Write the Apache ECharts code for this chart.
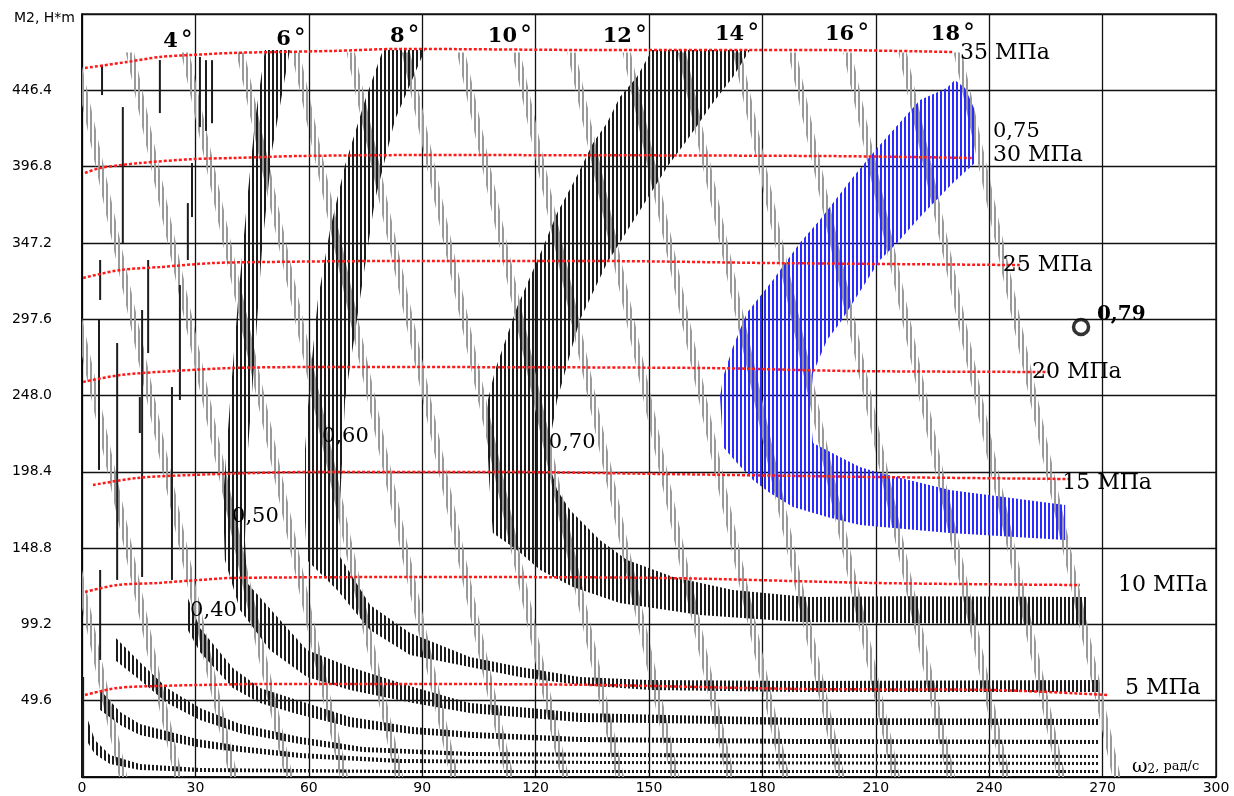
<!DOCTYPE html>
<html><head><meta charset="utf-8">
<script src="https://cdn.jsdelivr.net/npm/echarts@6/dist/echarts.min.js"></script>
<style>html,body{margin:0;padding:0;background:#fff}#c{width:1234px;height:796px}</style>
</head><body><div id="c"></div>
<script>
// ---------- axes ----------
const xMin = 0, xMax = 300, xStep = 30;
const yMin = 0, yMax = 496, yStep = 49.6;

// ---------- pressure lines (ω, M) ----------
const p35 = [[0.8,460.9],[11.9,464.8],[20.6,468.1],[29.4,469.4],[39.9,470.7],[51.6,471.3],[66.4,472.0],[84.1,473.3],[137.0,472.6],[195.2,472.6],[230.2,471.3]];
const p30 = [[0.8,392.6],[4.8,395.9],[15.3,399.1],[29.4,401.7],[39.9,402.4],[57.7,403.7],[89.4,404.3],[195.2,403.7],[235.7,402.4]];
const p25 = [[0.3,324.4],[10.1,329.6],[20.6,331.5],[34.7,334.1],[48.9,334.8],[78.8,335.4],[137.0,335.4],[182.8,334.1],[248.1,332.8]];
const p20 = [[0.3,256.8],[10.1,261.3],[24.1,263.9],[39.9,265.9],[61.1,266.5],[163.5,265.9],[204.0,263.9],[256.1,263.3]];
const p15 = [[2.9,189.8],[14.6,194.4],[28.6,196.3],[45.2,197.6],[61.1,198.3],[110.6,198.3],[152.9,197.0],[210.3,195.0],[261.4,193.7]];
const p10 = [[0.8,120.3],[9.3,124.8],[19.8,126.1],[31.2,128.1],[39.9,129.4],[89.4,130.0],[152.9,129.4],[210.3,126.1],[264.0,124.8]];
const p5  = [[0.8,53.3],[9.3,57.9],[20.6,59.2],[31.2,59.8],[48.9,60.5],[89.4,60.5],[137.0,59.8],[190.0,57.2],[240.2,56.6],[271.2,53.3]];

// ---------- swash-angle lines: top ω (at M=grayTopM) and bottom ω (at M=0) ----------
const grayTopM = 471;
const grayTop    = [-32.2,-17.6,-3.0,11.6,26.2,40.8,55.4,70.0,84.6,99.2,113.8,128.4,143.0,157.6,172.2,186.8,201.4,216.0,230.6];
const grayBottom = [9.8,24.4,39.0,53.6,68.2,82.8,97.4,112.0,126.6,141.2,155.8,170.4,185.0,199.6,214.2,228.8,243.4,258.0,272.6];

// ---------- efficiency bands (outline polygons, ω, M) ----------
const eff010 = [[1.1,40.3],[3.4,24.1],[7.4,14.3],[15.3,8.5],[31.2,5.9],[84.1,4.6],[269.3,4.6],[269.3,2.6],[84.1,2.6],[31.2,3.3],[15.3,4.6],[7.4,8.5],[3.4,15.0],[1.1,24.1]];
const eff020 = [[4.8,56.6],[10.1,42.3],[15.3,34.5],[30.4,24.7],[41.8,20.2],[57.7,15.6],[84.1,11.7],[137.0,10.4],[269.3,9.8],[269.3,7.8],[137.0,8.5],[84.1,9.1],[57.7,12.4],[41.8,16.3],[30.4,19.5],[15.3,27.3],[10.1,33.8],[4.8,43.6]];
const eff030 = [[8.7,91.0],[15.3,74.8],[22.5,57.9],[31.2,44.9],[41.8,34.5],[57.7,26.0],[74.3,19.5],[102.6,16.3],[190.0,15.0],[269.3,14.3],[269.3,12.4],[190.0,12.4],[102.6,13.7],[74.3,16.3],[57.7,21.5],[41.8,28.6],[31.2,37.1],[22.5,48.1],[15.3,63.1],[8.7,76.1]];
const eff040 = [[28.0,116.4],[31.2,96.9],[39.9,70.9],[47.1,57.9],[56.9,50.1],[70.9,39.0],[87.6,32.5],[103.4,29.3],[131.7,26.0],[190.0,24.7],[269.3,24.1],[269.3,21.5],[190.0,21.5],[131.7,22.8],[103.4,25.4],[87.6,27.9],[70.9,32.5],[56.9,41.0],[47.1,48.1],[39.9,57.9],[31.2,81.3],[28.0,95.6]];
const eff050 = [[48.4,472.6],[45.8,427.1],[43.7,375.1],[41.3,310.1],[39.2,245.1],[37.3,180.1],[37.8,141.1],[41.8,108.6],[49.7,82.6],[59.5,65.0],[70.9,56.6],[87.6,48.1],[102.6,41.6],[118.5,38.4],[131.7,35.8],[190.0,33.8],[269.3,33.8],[269.3,37.7],[190.0,38.4],[131.7,41.6],[118.5,44.9],[102.6,48.1],[87.6,58.5],[70.9,71.5],[59.5,82.6],[52.4,102.1],[43.7,126.1],[43.1,154.1],[43.9,212.6],[45.8,277.6],[47.6,342.6],[50.3,407.6],[55.0,472.6]];
const eff060 = [[79.6,472.6],[74.9,440.1],[69.6,397.8],[65.6,355.6],[62.4,310.1],[60.3,258.1],[59.0,212.6],[59.0,167.1],[59.5,141.1],[67.5,121.6],[76.2,95.6],[86.8,79.3],[102.6,71.5],[115.9,65.0],[131.7,59.8],[150.3,56.6],[190.0,55.3],[269.3,55.3],[269.3,63.1],[190.0,62.4],[149.5,63.1],[131.7,65.0],[115.9,71.5],[102.6,78.0],[86.8,93.6],[76.2,111.8],[68.3,143.0],[68.3,180.1],[69.6,245.1],[73.5,310.1],[77.5,375.1],[82.8,427.1],[90.7,472.6]];
const eff070 = [[150.8,472.6],[146.8,455.1],[142.3,442.1],[138.9,425.2],[135.2,412.2],[130.4,388.1],[125.7,366.6],[122.0,344.5],[115.1,305.5],[109.3,264.6],[107.4,245.1],[107.1,223.6],[107.7,193.1],[108.7,158.6],[115.1,147.6],[121.2,134.6],[129.9,123.5],[142.3,113.1],[163.5,105.3],[189.9,100.8],[265.9,98.8],[265.9,117.0],[216.4,117.5],[191.8,117.0],[172.2,121.6],[156.4,130.0],[144.2,141.1],[137.0,154.1],[129.1,173.6],[125.7,186.6],[123.8,201.5],[124.3,225.6],[125.7,245.1],[131.7,297.1],[138.9,334.1],[154.8,396.5],[160.1,414.1],[166.9,438.1],[172.2,455.1],[176.7,472.6]];
const eff075 = [[230.9,453.1],[228.8,447.9],[221.7,440.1],[210.6,409.5],[204.0,390.0],[195.2,362.1],[189.9,347.1],[182.8,323.1],[175.9,301.6],[172.2,279.5],[169.6,260.0],[168.8,247.0],[169.6,214.5],[173.3,204.1],[177.5,193.1],[182.0,184.6],[188.1,175.5],[197.1,169.0],[205.8,163.8],[229.6,158.6],[260.1,154.1],[260.1,176.8],[229.6,186.6],[211.1,197.6],[205.8,201.5],[200.5,208.0],[193.4,217.1],[192.6,238.6],[193.4,262.6],[197.1,284.1],[200.5,295.1],[211.1,336.1],[215.6,347.1],[221.7,364.0],[230.4,386.1],[236.2,399.1],[236.2,433.6],[233.6,447.9]];

// sparse long black strokes at low speed: [ω, Mlow, Mhigh]
const sparseStrokes = [[0.3,0,65.0],[4.5,199.6,297.1],[4.8,310.1,336.1],[4.8,76.1,134.6],[5.3,443.3,462.9],[9.3,128.1,282.1],[10.8,347.1,435.5],[15.3,223.6,247.0],[15.9,130.0,303.6],[17.5,275.6,336.1],[20.6,431.6,466.1],[23.8,128.1,253.5],[25.9,245.1,319.8],[28.0,336.1,373.1],[29.1,364.0,399.1],[31.2,422.5,468.1],[32.8,420.0,466.0],[34.4,425.0,466.0]];

// ---------- text ----------
const angleLabels = ['4','6','8','10','12','14','16','18'];
const angleAt = [[25.4,477.8],[55.3,479.1],[85.4,481.1],[113.2,481.1],[143.6,481.1],[173.3,482.4],[202.4,482.4],[230.4,482.4]];
const pressureLabels = ['35 МПа','30 МПа','25 МПа','20 МПа','15 МПа','10 МПа','5 МПа'];
const pressureAt = [[232.3,470.7],[241.0,404.3],[243.6,332.8],[251.3,263.3],[259.3,191.1],[274.1,124.8],[275.9,57.9]];
const effLabels = ['0,40','0,50','0,60','0,70','0,75'];
const effAt = [[28.6,107.9],[39.7,169.0],[63.5,221.0],[123.5,217.1],[241.0,419.9]];
const optLabel = ['0,79'];
const optPoint = [[264.3,292.5]];
const optLabelAt = [[268.5,300.3]];
const xName = ['ω','2',', рад/с'];
const xNameAt = [[277.8,6.5]];

// ---------- rendering ----------
function stripe(color, offset, w, period) {
  const c = document.createElement('canvas');
  c.width = period; c.height = 4;
  const g = c.getContext('2d');
  g.fillStyle = color; g.fillRect(offset, 0, w, 4);
  return { image: c, repeat: 'repeat' };
}
const blackPat = stripe('#1c1c1c', 0, 2, 4);
const bluePat  = stripe('#2b2bff', 0, 2, 4);
const grayPat  = stripe('#9a9a9a', 2, 2, 4);

function band(points, pat, z) {
  return {
    type: 'custom', silent: true, clip: true, z: z,
    data: [[points[0][0], points[0][1]]],
    renderItem: function (params, api) {
      return { type: 'polygon', shape: { points: points.map(p => api.coord(p)) },
               style: { fill: pat, stroke: null } };
    }
  };
}
function redLine(data) {
  return { type: 'line', data: data, symbol: 'none', smooth: 0.3, silent: true, z: 6,
    lineStyle: { color: '#ff1a1a', width: 2.5, type: [3, 2] } };
}
const serif = '"DejaVu Serif", "Liberation Serif", serif';
function textSeries(texts, at, style, z) {
  return {
    type: 'custom', silent: true, clip: false, z: z || 8,
    data: at,
    renderItem: function (params, api) {
      const p = api.coord([api.value(0), api.value(1)]);
      return { type: 'text', x: p[0], y: p[1],
        style: Object.assign({ text: texts[params.dataIndex] }, style) };
    }
  };
}

const grayWidth = 2.2;
const series = [
  {
    type: 'custom', silent: true, clip: true, z: 2,
    data: grayTop.map((t, i) => [t, grayBottom[i]]),
    renderItem: function (params, api) {
      const t = api.value(0), b = api.value(1);
      return { type: 'polygon', shape: { points: [
        api.coord([t, grayTopM]), api.coord([t + grayWidth, grayTopM]),
        api.coord([b + grayWidth, 0]), api.coord([b, 0])] },
        style: { fill: grayPat, stroke: null } };
    }
  },
  band(eff010, blackPat, 4), band(eff020, blackPat, 4), band(eff030, blackPat, 4),
  band(eff040, blackPat, 4), band(eff050, blackPat, 4), band(eff060, blackPat, 4),
  band(eff070, blackPat, 4), band(eff075, bluePat, 4),
  {
    type: 'custom', silent: true, clip: true, z: 4,
    data: sparseStrokes,
    renderItem: function (params, api) {
      const a = api.coord([api.value(0), api.value(1)]);
      const b = api.coord([api.value(0), api.value(2)]);
      return { type: 'line', shape: { x1: a[0], y1: a[1], x2: b[0], y2: b[1] },
        style: { stroke: '#1c1c1c', lineWidth: 2 } };
    }
  },
  redLine(p35), redLine(p30), redLine(p25), redLine(p20), redLine(p15), redLine(p10), redLine(p5),
  {
    type: 'scatter', data: optPoint, symbol: 'circle', symbolSize: 15, z: 9, silent: true,
    itemStyle: { color: '#fff', borderColor: '#000', borderWidth: 3.5 }
  },
  textSeries(angleLabels.map(s => '{n|' + s + '}{d|°}'), angleAt, {
    align: 'center', verticalAlign: 'middle',
    rich: { n: { fontFamily: serif, fontSize: 21, fontWeight: 'bold', fill: '#000' },
            d: { fontFamily: serif, fontSize: 24, fill: '#000', padding: [0, 0, 0, 3] } }
  }),
  textSeries(pressureLabels, pressureAt, { align: 'left', verticalAlign: 'middle',
    fontFamily: serif, fontSize: 22, fill: '#000' }),
  textSeries(effLabels, effAt, { align: 'left', verticalAlign: 'middle',
    fontFamily: serif, fontSize: 21, fill: '#000' }),
  textSeries(optLabel, optLabelAt, { align: 'left', verticalAlign: 'middle',
    fontFamily: serif, fontSize: 20, fontWeight: 'bold', fill: '#000' }),
  textSeries(['{w|' + xName[0] + '}{s|' + xName[1] + '}{r|' + xName[2] + '}'], xNameAt, {
    align: 'left', verticalAlign: 'middle',
    rich: { w: { fontFamily: serif, fontSize: 19, fill: '#000' },
            s: { fontFamily: serif, fontSize: 12, fill: '#000', padding: [6, 0, 0, 0] },
            r: { fontFamily: serif, fontSize: 13, fill: '#000' } }
  })
];

const chart = echarts.init(document.getElementById('c'), null, { renderer: 'canvas' });
chart.setOption({
  animation: false,
  backgroundColor: '#fff',
  grid: { left: 82, right: 18, top: 14, bottom: 19, show: true, borderColor: '#222', borderWidth: 1.5, containLabel: false },
  xAxis: {
    type: 'value', min: xMin, max: xMax, interval: xStep,
    axisLine: { show: true, lineStyle: { color: '#000', width: 1.5 } },
    axisTick: { show: false },
    axisLabel: { margin: 4, color: '#000', fontFamily: '"DejaVu Sans", sans-serif', fontSize: 14 },
    splitLine: { show: true, lineStyle: { color: '#111', width: 1.3 } }
  },
  yAxis: {
    type: 'value', min: yMin, max: yMax, interval: yStep,
    name: 'M2, H*m', nameLocation: 'end', nameGap: -4,
    nameTextStyle: { align: 'right', verticalAlign: 'middle', padding: [0, 7, 0, 0], color: '#000', fontFamily: '"DejaVu Sans", sans-serif', fontSize: 14 },
    axisLine: { show: true, lineStyle: { color: '#000', width: 1.5 } },
    axisTick: { show: false },
    axisLabel: { margin: 30, color: '#000', fontFamily: '"DejaVu Sans", sans-serif', fontSize: 14,
      formatter: v => (v < 1 || v > yMax - 1) ? '' : v.toFixed(1) },
    splitLine: { show: true, lineStyle: { color: '#111', width: 1.3 } }
  },
  series: series
});
</script>
</body></html>
